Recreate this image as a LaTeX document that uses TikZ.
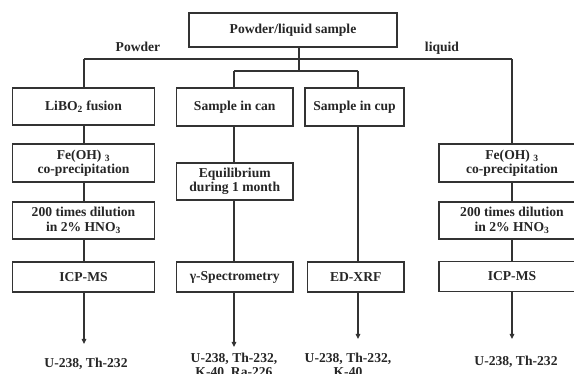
\documentclass[tikz,border=0pt]{standalone}
\usepackage{fontspec}
\setmainfont{Liberation Serif}
\usetikzlibrary{arrows.meta}
\begin{document}
\begin{tikzpicture}[x=1pt,y=1pt,
  every node/.style={font=\bfseries\fontsize{13.6}{14.5}\selectfont, text=black!85},
  box/.style={draw=black!80, line width=1.1pt, inner sep=0pt, align=center, fill=white},
  conn/.style={draw=black!80, line width=1.1pt},
  arr/.style={conn, -{Triangle[length=5pt,width=4.5pt]}},
  lbl/.style={align=center, inner sep=0pt}]
\clip (0,0) rectangle (574,-374);
\useasboundingbox (0,0) rectangle (574,-374);
% top
\node[box, minimum width=208pt, minimum height=34pt] (top) at (293,-30) {Powder/liquid sample};
\node[lbl, anchor=base] (lp) at (138,-52) {Powder};
\node[lbl, anchor=base] (ll) at (442,-52) {liquid};
% junction coordinates
\coordinate (jt) at (299,-47);
\coordinate (jm) at (299,-71);
\coordinate (jl) at (84,-59);
\coordinate (jr) at (512,-59);
\coordinate (jc) at (234,-71);
\coordinate (ju) at (358,-71);
% left column
\node[box, minimum width=142pt, minimum height=37pt] (libo) at (83.5,-106.5) {LiBO\textsubscript{2} fusion};
\node[box, minimum width=142pt, minimum height=38pt] (fe1) at (83.5,-163) {Fe(OH) \textsubscript{3}\\co-precipitation};
\node[box, minimum width=142pt, minimum height=37pt] (dil1) at (83.5,-220.5) {200 times dilution\\in 2\% HNO\textsubscript{3}};
\node[box, minimum width=142pt, minimum height=30pt] (icp1) at (83.5,-277) {ICP-MS};
% column 2
\node[box, minimum width=116.5pt, minimum height=38pt] (can) at (234.75,-107) {Sample in can};
\node[box, minimum width=116.5pt, minimum height=37pt] (equi) at (234.75,-181.5) {Equilibrium\\during 1 month};
\node[box, minimum width=116.5pt, minimum height=30pt] (spec) at (234.75,-277) {γ-Spectrometry};
% column 3
\node[box, minimum width=99pt, minimum height=38pt] (cup) at (354.5,-107) {Sample in cup};
\node[box, minimum width=96.5pt, minimum height=30pt] (xrf) at (355.75,-277) {ED-XRF};
% column 4
\node[box, minimum width=146pt, minimum height=38pt] (fe2) at (512,-163) {Fe(OH) \textsubscript{3}\\co-precipitation};
\node[box, minimum width=146pt, minimum height=37pt] (dil2) at (512,-220.5) {200 times dilution\\in 2\% HNO\textsubscript{3}};
\node[box, minimum width=146pt, minimum height=30pt] (icp2) at (512,-276.5) {ICP-MS};
% results
\node[lbl] (r1) at (86,-364) {U-238, Th-232};
\node[lbl] (r2) at (234,-366) {U-238, Th-232,\\K-40, Ra-226};
\node[lbl] (r3) at (348,-365) {U-238, Th-232,\\K-40};
\node[lbl] (r4) at (516,-362) {U-238, Th-232};
\coordinate (a1) at (84,-344);
\coordinate (a2) at (234,-347);
\coordinate (a3) at (358,-339);
\coordinate (a4) at (512,-339);
% connectors
\draw[conn] (jt) -- (jm);
\draw[conn] (jl) -- (jr);
\draw[conn] (jl) -- (jl |- libo.north);
\draw[conn] (jr) -- (jr |- fe2.north);
\draw[conn] (jc) -- (ju);
\draw[conn] (jc) -- (jc |- can.north);
\draw[conn] (ju) -- (ju |- cup.north);
\draw[conn] (jl |- libo.south) -- (jl |- fe1.north);
\draw[conn] (jl |- fe1.south) -- (jl |- dil1.north);
\draw[conn] (jl |- dil1.south) -- (jl |- icp1.north);
\draw[arr] (jl |- icp1.south) -- (a1);
\draw[conn] (jc |- can.south) -- (jc |- equi.north);
\draw[conn] (jc |- equi.south) -- (jc |- spec.north);
\draw[arr] (jc |- spec.south) -- (a2);
\draw[conn] (ju |- cup.south) -- (ju |- xrf.north);
\draw[arr] (ju |- xrf.south) -- (a3);
\draw[conn] (jr |- fe2.south) -- (jr |- dil2.north);
\draw[conn] (jr |- dil2.south) -- (jr |- icp2.north);
\draw[arr] (jr |- icp2.south) -- (a4);
\end{tikzpicture}
\end{document}
